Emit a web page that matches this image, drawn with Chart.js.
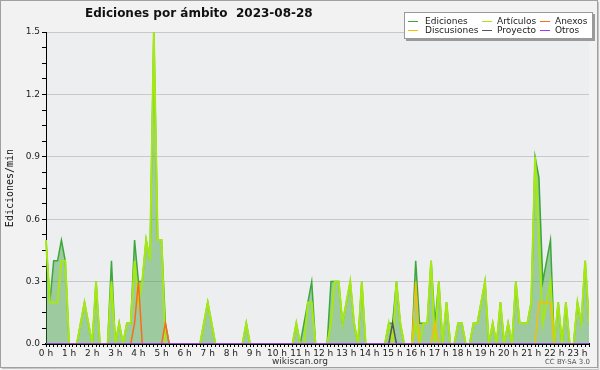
<!DOCTYPE html>
<html>
<head>
<meta charset="utf-8">
<script src="https://cdn.jsdelivr.net/npm/chart.js@4.4.0/dist/chart.umd.min.js"></script>
<style>
  body { margin: 0; background: #f2f2f2; }
  #marco { position: relative; width: 600px; height: 370px; font-family: "DejaVu Sans", sans-serif; }
  #marco canvas { position: absolute; left: 0; top: 0; }
  .titulo { position: absolute; left: 85px; top: 6px; font-size: 12px; font-weight: bold; color: #111; white-space: pre; }
  .leyenda { position: absolute; left: 404px; top: 12px; width: 187px; height: 25px; background: #fff;
             border: 1px solid #999; box-shadow: 2px 2px 0 #9a9a9a; font-size: 9px; color: #222; }
  .leyenda span { position: absolute; white-space: nowrap; line-height: 10px; }
  .leyenda i { position: absolute; width: 10px; height: 0; border-top: 1.5px solid; }
  .pie { position: absolute; top: 356px; left: 0; width: 600px; text-align: center; font-size: 9px; color: #333; }
  .licencia { position: absolute; top: 358px; right: 10px; font-size: 7px; color: #555; }
</style>
</head>
<body>
<div id="marco">
  <canvas id="grafico" width="600" height="370"></canvas>
  <div class="titulo">Ediciones por ámbito  2023-08-28</div>
  <div class="leyenda" id="leyenda"></div>
  <div class="pie">wikiscan.org</div>
  <div class="licencia">CC BY-SA 3.0</div>
</div>
<script>
// ediciones/min cada 10 minutos (144 franjas)
const ediciones = [
  0.5,0.2,0.4,0.4,0.5,0.4, 0,0,0,0.1,0.2,0.1,
  0,0.3,0,0,0,0.4, 0,0.1,0,0.1,0.1,0.5,
  0.3,0.3,0.5,0.4,1.5,0.5, 0.5,0.1,0,0,0,0,
  0,0,0,0,0,0.1, 0.2,0.1,0,0,0,0,
  0,0,0,0,0.1,0, 0,0,0,0,0,0,
  0,0,0,0,0,0.1, 0,0.1,0.2,0.3,0,0,
  0,0,0.3,0.3,0.3,0.1, 0.2,0.3,0.1,0,0.3,0,
  0,0,0,0,0,0.1, 0.1,0.3,0.1,0,0,0,
  0.4,0.1,0.1,0.1,0.4,0.1, 0.3,0,0.2,0,0,0.1,
  0.1,0,0,0.1,0.1,0.2, 0.3,0,0.1,0,0.2,0,
  0.1,0,0.3,0.1,0.1,0.1, 0.2,0.9,0.8,0.3,0.4,0.5,
  0,0.2,0,0.2,0,0, 0.2,0.1,0.4,0.1,0,0
];
const articulos = [
  0.5,0.2,0.2,0.2,0.4,0.4, 0,0,0,0.1,0.2,0.1,
  0,0.3,0,0,0,0.3, 0,0.1,0,0.1,0.1,0.4,
  0.2,0.3,0.5,0.4,1.5,0.5, 0.5,0,0,0,0,0,
  0,0,0,0,0,0.1, 0.2,0.1,0,0,0,0,
  0,0,0,0,0.1,0, 0,0,0,0,0,0,
  0,0,0,0,0,0.1, 0,0,0.2,0.2,0,0,
  0,0,0.1,0.3,0.3,0.1, 0.2,0.3,0.1,0,0.3,0,
  0,0,0,0,0,0.1, 0,0.3,0.1,0,0,0,
  0.1,0,0.1,0.1,0.4,0, 0.3,0,0.2,0,0,0.1,
  0.1,0,0,0.1,0.1,0.2, 0.3,0,0.1,0,0.2,0,
  0.1,0,0.3,0.1,0.1,0.1, 0.2,0.9,0.5,0.1,0.2,0.3,
  0,0.2,0,0.2,0,0, 0.2,0.1,0.4,0.1,0,0
];
const anexos = [
  0,0,0,0,0,0, 0,0,0,0,0,0,
  0,0,0,0,0,0, 0,0,0,0,0,0.1,
  0.3,0,0,0,0,0, 0,0.1,0,0,0,0,
  0,0,0,0,0,0, 0,0,0,0,0,0,
  0,0,0,0,0,0, 0,0,0,0,0,0,
  0,0,0,0,0,0, 0,0,0,0,0,0,
  0,0,0,0,0,0, 0,0,0,0,0,0,
  0,0,0,0,0,0, 0,0,0,0,0,0,
  0,0,0,0,0,0, 0,0,0,0,0,0,
  0,0,0,0,0,0, 0,0,0,0,0,0,
  0,0,0,0,0,0, 0,0,0,0,0,0,
  0,0,0,0,0,0, 0,0,0,0,0,0
];
const discusiones = [
  0,0,0,0,0,0, 0,0,0,0,0,0,
  0,0,0,0,0,0, 0,0,0,0,0,0,
  0,0,0,0,0,0, 0,0,0,0,0,0,
  0,0,0,0,0,0, 0,0,0,0,0,0,
  0,0,0,0,0,0, 0,0,0,0,0,0,
  0,0,0,0,0,0, 0,0,0,0,0,0,
  0,0,0,0,0,0, 0,0,0,0,0,0,
  0,0,0,0,0,0, 0,0,0,0,0,0,
  0.3,0,0,0,0,0.1, 0,0,0,0,0,0,
  0,0,0,0,0,0, 0,0,0,0,0,0,
  0,0,0,0,0,0, 0,0,0.2,0.2,0.2,0.2,
  0,0,0,0,0,0, 0,0,0,0,0,0
];
const proyecto = [
  0,0,0,0,0,0, 0,0,0,0,0,0,
  0,0,0,0,0,0, 0,0,0,0,0,0,
  0,0,0,0,0,0, 0,0,0,0,0,0,
  0,0,0,0,0,0, 0,0,0,0,0,0,
  0,0,0,0,0,0, 0,0,0,0,0,0,
  0,0,0,0,0,0, 0,0,0,0,0,0,
  0,0,0,0,0,0, 0,0,0,0,0,0,
  0,0,0,0,0,0, 0.1,0,0,0,0,0,
  0,0,0,0,0,0, 0,0,0,0,0,0,
  0,0,0,0,0,0, 0,0,0,0,0,0,
  0,0,0,0,0,0, 0,0,0,0,0,0,
  0,0,0,0,0,0, 0,0,0,0,0,0
];
const otros = [
  0,0,0,0,0,0, 0,0,0,0,0,0,
  0,0,0,0,0,0, 0,0,0,0,0,0,
  0,0,0,0,0,0, 0,0,0,0,0,0,
  0,0,0,0,0,0, 0,0,0,0,0,0,
  0,0,0,0,0,0, 0,0,0,0,0,0,
  0,0,0,0,0,0, 0,0,0,0,0,0,
  0,0,0,0,0,0, 0,0,0,0,0,0,
  0,0,0,0,0,0, 0,0,0,0,0,0,
  0,0,0,0,0,0, 0,0,0,0,0,0,
  0,0,0,0,0,0, 0,0,0,0,0,0,
  0,0,0,0,0,0, 0,0,0,0,0,0,
  0,0,0,0,0,0, 0,0,0,0,0,0
];
const etiquetasHora = ['0 h','1 h','2 h','3 h','4 h','5 h','6 h','7 h','8 h','9 h','10 h','11 h',
  '12 h','13 h','14 h','15 h','16 h','17 h','18 h','19 h','20 h','21 h','22 h','23 h'];
const nombres = ['Ediciones', 'Artículos', 'Anexos', 'Discusiones', 'Proyecto', 'Otros'];
const colores = ['#3aa83a', '#a6e812', '#ff6a1a', '#f5c000', '#555555', '#9a3cff'];
const grosores = [1.5, 2, 1.5, 1.5, 1.5, 1.5];

// franjas de 10 minutos
const franjas = [];
for (let h = 0; h < 24; h++) {
  for (let m = 0; m < 60; m += 10) franjas.push(h + ':' + String(m).padStart(2, '0'));
}

// leyenda en html
const posLeyenda = [[3, 20, 3], [77, 92, 3], [135, 150, 3], [3, 20, 12], [77, 92, 12], [135, 150, 12]];
const leyenda = document.getElementById('leyenda');
nombres.forEach((n, i) => {
  const p = posLeyenda[i];
  leyenda.insertAdjacentHTML('beforeend',
    '<i style="left:' + p[0] + 'px;top:' + (p[2] + 5) + 'px;border-color:' + colores[i] + '"></i>' +
    '<span style="left:' + p[1] + 'px;top:' + p[2] + 'px">' + n + '</span>');
});

const esMayor = v => Math.abs(v / 0.3 - Math.round(v / 0.3)) < 1e-6;

const fondo = {
  id: 'fondo',
  beforeDraw(chart) {
    const c = chart.ctx, a = chart.chartArea;
    c.save();
    c.fillStyle = '#f2f2f2';
    c.fillRect(0, 0, chart.width, chart.height);
    c.fillStyle = '#edeef0';
    c.fillRect(a.left, a.top, a.right - a.left, a.bottom - a.top);
    c.restore();
  },
  afterDraw(chart) {
    const c = chart.ctx;
    c.save();
    c.strokeStyle = '#a0a0a0';
    c.strokeRect(0.5, 0.5, 597, 367);
    c.strokeStyle = '#c4c4c4';
    c.beginPath();
    c.moveTo(598.5, 2); c.lineTo(598.5, 369.5); c.lineTo(2, 368.5);
    c.stroke();
    c.restore();
  }
};

const series = [ediciones, articulos, anexos, discusiones, proyecto, otros];
const ordenes = [5, 4, 3, 2, 1, 0];

const grafico = new Chart(document.getElementById('grafico'), {
  type: 'line',
  data: {
    labels: franjas,
    datasets: series.map((d, i) => ({
      label: nombres[i],
      data: d,
      borderColor: colores[i],
      borderWidth: grosores[i],
      backgroundColor: i === 0 ? 'rgba(60,160,60,0.45)' : colores[i],
      fill: i === 0 ? 'origin' : false,
      order: ordenes[i]
    }))
  },
  options: {
    responsive: false,
    animation: false,
    layout: { padding: { top: 32, right: 11, left: 0, bottom: 0 } },
    elements: {
      point: { radius: 0 },
      line: { tension: 0 }
    },
    plugins: {
      legend: { display: false },
      tooltip: { enabled: false }
    },
    scales: {
      x: {
        type: 'category',
        max: franjas[141],
        offset: false,
        z: 1,
        grid: { drawOnChartArea: false, tickLength: 3, tickColor: '#000' },
        border: { color: '#000', width: 2 },
        ticks: {
          autoSkip: false, maxRotation: 0, padding: 1,
          font: { family: 'DejaVu Sans', size: 9 }, color: '#222',
          callback: v => v % 6 === 0 ? etiquetasHora[v / 6] : ''
        },
        afterFit: s => { s.height = 26; }
      },
      y: {
        min: 0,
        max: 1.5,
        grid: {
          color: ctx => esMayor(ctx.tick.value) ? '#c8c8c8' : 'rgba(0,0,0,0)',
          tickColor: '#000',
          tickLength: 4
        },
        border: { color: '#000', width: 1 },
        ticks: {
          stepSize: 0.075, padding: 2,
          font: { family: 'DejaVu Sans', size: 9 }, color: '#222',
          callback: v => esMayor(v) ? v.toFixed(1) : ''
        },
        title: {
          display: true, text: 'Ediciones/min', color: '#111',
          font: { family: 'DejaVu Sans Mono', size: 10 },
          padding: { top: 4, bottom: 0 }
        },
        afterFit: s => { s.width = 46; }
      }
    }
  },
  plugins: [fondo]
});
</script>
</body>
</html>
